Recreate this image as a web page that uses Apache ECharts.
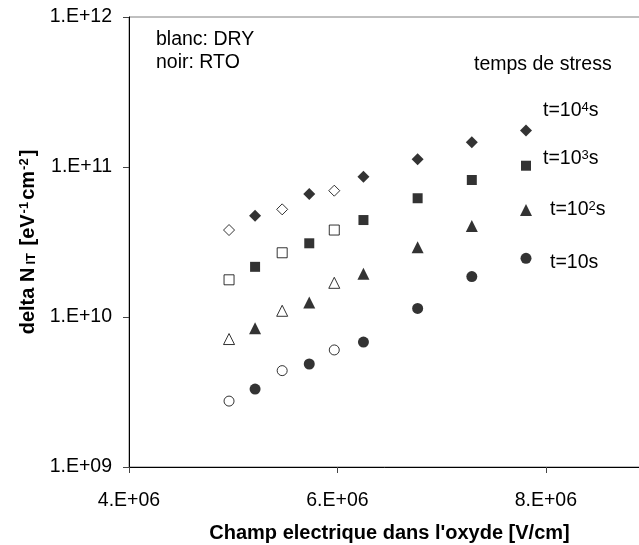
<!DOCTYPE html>
<html>
<head>
<meta charset="utf-8">
<script src="https://cdn.jsdelivr.net/npm/echarts@6/dist/echarts.min.js"></script>
<style>
  html, body { margin: 0; padding: 0; background: #fff; }
  #chart { width: 639px; height: 545px; }
</style>
</head>
<body>
<div id="chart"></div>
<script>
// champ electrique (V/cm)
var xDry = [4.96e6, 5.47e6, 5.97e6];
var xRto = [5.21e6, 5.73e6, 6.25e6, 6.77e6, 7.29e6, 7.81e6];

// delta Nit, blanc = DRY
var dry1e4 = [3.80e10, 5.22e10, 6.95e10];
var dry1e3 = [1.77e10, 2.68e10, 3.80e10];
var dry1e2 = [7.13e9, 1.10e10, 1.69e10];
var dry10 = [2.75e9, 4.39e9, 6.03e9];

// noir = RTO
var rto1e4 = [4.74e10, 6.61e10, 8.61e10, 1.125e11, 1.46e11, 1.75e11];
var rto1e3 = [2.16e10, 3.10e10, 4.43e10, 6.19e10, 8.19e10, 1.02e11];
var rto1e2 = [8.41e9, 1.25e10, 1.94e10, 2.92e10, 4.04e10, 5.17e10];
var rto10 = [3.31e9, 4.86e9, 6.81e9, 1.14e10, 1.86e10, 2.46e10];

var xTicks = [4e6, 6e6, 8e6];

var FONT = '"Liberation Sans", Arial, sans-serif';
var FS = 19.5;

function pts(xs, ys) {
    var out = [];
    for (var i = 0; i < xs.length; i++) out.push([xs[i], ys[i]]);
    return out;
}

function serie(name, data, symbol, size, filled) {
    return {
        name: name,
        type: 'scatter',
        data: data,
        symbol: symbol,
        symbolSize: size,
        itemStyle: filled
            ? { color: '#000', borderWidth: 0 }
            : { color: '#fff', borderColor: '#000', borderWidth: 1 },
        emphasis: { disabled: true }
    };
}

var myChart = echarts.init(document.getElementById('chart'));

var supRich = {
    sup: { fontSize: 13, fontFamily: FONT, verticalAlign: 'top', padding: [0, 0, 8, 0] }
};

function note(x, y, txt) {
    return {
        type: 'text', x: x, y: y,
        style: { text: txt, fontSize: FS, fontFamily: FONT, fill: '#000', verticalAlign: 'middle', rich: supRich }
    };
}

option = {
    backgroundColor: '#fff',
    animation: false,
    grid: {
        left: 129, top: 17, width: 521, height: 450,
        outerBoundsMode: 'none',
        containLabel: false,
        show: true, borderColor: '#808080', borderWidth: 1, backgroundColor: '#fff'
    },
    xAxis: {
        type: 'value',
        min: 4e6, max: 9e6, interval: 2e6,
        name: "Champ electrique dans l'oxyde [V/cm]",
        nameLocation: 'middle',
        nameGap: 56,
        nameTextStyle: { fontSize: 20, fontWeight: 'bold', color: '#000', fontFamily: FONT },
        axisLine: { show: true, lineStyle: { color: '#000', width: 1 } },
        axisTick: { show: true, length: 6, lineStyle: { color: '#444' } },
        axisLabel: {
            margin: 24, fontSize: FS, color: '#000', fontFamily: FONT,
            showMaxLabel: false,
            formatter: function (v) {
                return xTicks.indexOf(v) >= 0 ? (v / 1e6) + '.E+06' : '';
            }
        },
        splitLine: { show: false }
    },
    yAxis: {
        type: 'log',
        logBase: 10,
        min: 1e9, max: 1e12,
        name: 'delta N{sub|IT} [eV{sup|-1}cm{sup|-2}]',
        nameLocation: 'middle',
        nameGap: 91,
        nameTextStyle: {
            fontSize: 20, fontWeight: 'bold', color: '#000', fontFamily: FONT,
            rich: {
                sub: { fontSize: 13, fontWeight: 'bold', fontFamily: FONT, verticalAlign: 'bottom', padding: [6, 2, 0, 3] },
                sup: { fontSize: 13, fontWeight: 'bold', fontFamily: FONT, verticalAlign: 'top', padding: [0, 2, 6, 1] }
            }
        },
        axisLine: { show: true, lineStyle: { color: '#000', width: 1 } },
        axisTick: { show: true, length: 6, lineStyle: { color: '#444' } },
        minorTick: { show: false },
        axisLabel: {
            margin: 17, fontSize: FS, color: '#000', fontFamily: FONT,
            formatter: function (v) {
                var e = Math.round(Math.log10(v));
                return '1.E+' + (e < 10 ? '0' + e : e);
            }
        },
        splitLine: { show: false }
    },
    graphic: [
        note(156, 40, 'blanc: DRY'),
        note(156, 63, 'noir: RTO'),
        note(474, 65, 'temps de stress'),
        note(543, 111, 't=10{sup|4}s'),
        note(543, 159, 't=10{sup|3}s'),
        note(550, 210, 't=10{sup|2}s'),
        note(550, 263, 't=10s')
    ],
    series: [
        serie('DRY 1e4', pts(xDry, dry1e4), 'diamond', 11, false),
        serie('DRY 1e3', pts(xDry, dry1e3), 'rect', 10, false),
        serie('DRY 1e2', pts(xDry, dry1e2), 'triangle', 11, false),
        serie('DRY 10', pts(xDry, dry10), 'circle', 10, false),
        serie('RTO 1e4', pts(xRto, rto1e4), 'diamond', 12, true),
        serie('RTO 1e3', pts(xRto, rto1e3), 'rect', 10, true),
        serie('RTO 1e2', pts(xRto, rto1e2), 'triangle', 12, true),
        serie('RTO 10', pts(xRto, rto10), 'circle', 11, true)
    ]
};

myChart.setOption(option);
</script>
</body>
</html>
